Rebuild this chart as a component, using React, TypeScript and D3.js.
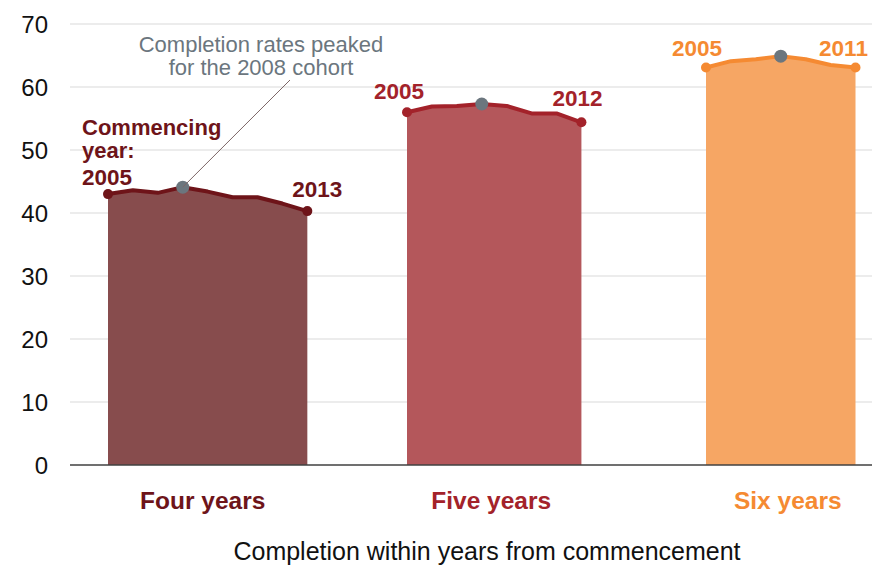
import { useEffect, useRef } from 'react'
import * as d3 from 'd3'

// completion rates (%) by commencing year, one array per category
const categories = ['Four years', 'Five years', 'Six years']
const fourYears = [43.0, 43.6, 43.2, 44.1, 43.4, 42.5, 42.5, 41.5, 40.3]
const fiveYears = [56.0, 56.9, 57.0, 57.3, 57.0, 55.8, 55.8, 54.4]
const sixYears = [63.1, 64.1, 64.4, 64.9, 64.4, 63.5, 63.1]
const startYear = 2005
const peakYear = 2008
const yTicks = [0, 10, 20, 30, 40, 50, 60, 70]

const fillColors = ['#874c4d', '#b4575b', '#f6a664']
const lineColors = ['#6e1419', '#a3222a', '#f58a32']
const grey = '#6b767e'

const WIDTH = 872
const HEIGHT = 565

export default function App() {
  const svgRef = useRef<SVGSVGElement>(null)

  useEffect(() => {
    if (!svgRef.current) return
    const svg = d3.select(svgRef.current)
    svg.selectAll('*').remove()
    svg.attr('width', WIDTH).attr('height', HEIGHT)

    const font = '"Liberation Sans", Arial, sans-serif'
    const y = d3.scaleLinear().domain([0, 70]).range([465, 24])
    // each commencing year takes one slot; groups separated by gaps
    const x = d3.scaleLinear().domain([0, 30]).range([108, 855.5])
    const groupStart = [0, 12, 24]
    const series = [fourYears, fiveYears, sixYears]

    // gridlines
    svg
      .append('g')
      .selectAll('line')
      .data(yTicks.filter(t => t > 0))
      .enter()
      .append('line')
      .attr('x1', 70)
      .attr('x2', WIDTH)
      .attr('y1', d => y(d))
      .attr('y2', d => y(d))
      .attr('stroke', '#d9d9d9')
      .attr('stroke-width', 1.2)

    // tick labels
    svg
      .append('g')
      .selectAll('text')
      .data(yTicks)
      .enter()
      .append('text')
      .attr('x', 48)
      .attr('y', d => y(d))
      .attr('dy', '0.36em')
      .attr('text-anchor', 'end')
      .style('font-family', font)
      .style('font-size', '24px')
      .style('fill', '#111')
      .text(d => d)

    const area = d3
      .area<number>()
      .x((_, i) => x(i))
      .y0(y(0))
      .y1(d => y(d))
    const line = d3
      .line<number>()
      .x((_, i) => x(i))
      .y(d => y(d))

    // label offsets [dx, dy] for first and last year labels
    const labelOffsets = [
      [[-1, -9], [10, -14]],
      [[-8, -13], [-4, -16]],
      [[-9, -11], [-12, -11]]
    ]

    series.forEach((values, gi) => {
      const g = svg.append('g').attr('transform', `translate(${x(groupStart[gi]) - x(0)},0)`)
      g.append('path').attr('d', area(values)).attr('fill', fillColors[gi])
      g.append('path')
        .attr('d', line(values))
        .attr('fill', 'none')
        .attr('stroke', lineColors[gi])
        .attr('stroke-width', 4)
        .attr('stroke-linejoin', 'round')

      const last = values.length - 1
      g.selectAll('circle.end')
        .data([0, last])
        .enter()
        .append('circle')
        .attr('class', 'end')
        .attr('cx', i => x(i))
        .attr('cy', i => y(values[i]))
        .attr('r', 5)
        .attr('fill', lineColors[gi])

      const pk = peakYear - startYear
      g.append('circle')
        .attr('cx', x(pk))
        .attr('cy', y(values[pk]))
        .attr('r', 6.5)
        .attr('fill', grey)

      g.selectAll('text.year')
        .data([0, last])
        .enter()
        .append('text')
        .attr('class', 'year')
        .attr('x', (i, k) => x(i) + labelOffsets[gi][k][0])
        .attr('y', (i, k) => y(values[i]) + labelOffsets[gi][k][1])
        .attr('text-anchor', 'middle')
        .style('font-family', font)
        .style('font-size', '22.5px')
        .style('font-weight', 'bold')
        .style('fill', lineColors[gi])
        .text(i => startYear + i)

      // category label
      svg
        .append('text')
        .attr('x', x(groupStart[gi] + last / 2) + [-5, -3, 7][gi])
        .attr('y', 509)
        .attr('text-anchor', 'middle')
        .style('font-family', font)
        .style('font-size', '24.5px')
        .style('font-weight', 'bold')
        .style('fill', lineColors[gi])
        .text(categories[gi])
    })

    // baseline
    svg
      .append('line')
      .attr('x1', 70)
      .attr('x2', WIDTH)
      .attr('y1', y(0))
      .attr('y2', y(0))
      .attr('stroke', '#404040')
      .attr('stroke-width', 1.5)

    // "Commencing year:" label
    svg
      .append('text')
      .attr('x', 82)
      .attr('y', 135)
      .style('font-family', font)
      .style('font-size', '22px')
      .style('font-weight', 'bold')
      .style('fill', lineColors[0])
      .selectAll('tspan')
      .data(['Commencing', 'year:'])
      .enter()
      .append('tspan')
      .attr('x', 82)
      .attr('dy', (_, i) => (i === 0 ? 0 : 23))
      .text(d => d)

    // annotation with leader line
    const pk = peakYear - startYear
    svg
      .append('line')
      .attr('x1', x(pk))
      .attr('y1', y(fourYears[pk]))
      .attr('x2', 290)
      .attr('y2', 80)
      .attr('stroke', '#7d6767')
      .attr('stroke-width', 1)
    svg
      .append('text')
      .attr('y', 52)
      .attr('text-anchor', 'middle')
      .style('font-family', font)
      .style('font-size', '22px')
      .style('fill', grey)
      .selectAll('tspan')
      .data(['Completion rates peaked', 'for the 2008 cohort'])
      .enter()
      .append('tspan')
      .attr('x', 261)
      .attr('dy', (_, i) => (i === 0 ? 0 : 23))
      .text(d => d)

    // axis title
    svg
      .append('text')
      .attr('x', 487)
      .attr('y', 560)
      .attr('text-anchor', 'middle')
      .style('font-family', font)
      .style('font-size', '25px')
      .style('fill', '#111')
      .text('Completion within years from commencement')
  }, [])

  return <svg ref={svgRef} style={{ position: 'absolute', left: 0, top: 0 }}></svg>
}
